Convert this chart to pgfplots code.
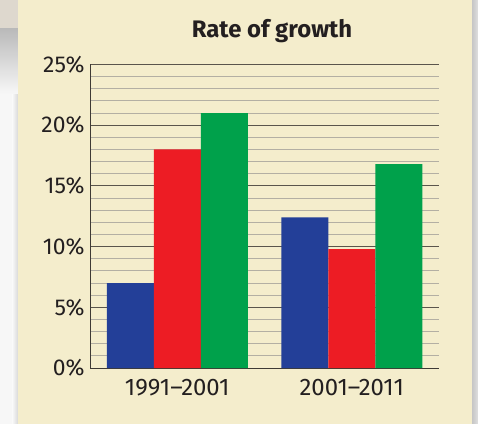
\documentclass[border=0pt]{standalone}
\usepackage{fontspec}
\setmainfont{Fira Sans}
\usepackage{pgfplots}
\pgfplotsset{compat=1.18}
\definecolor{cream}{HTML}{F4EDCC}
\definecolor{barblue}{HTML}{233F98}
\definecolor{barred}{HTML}{ED1C24}
\definecolor{bargreen}{HTML}{00A14B}
\definecolor{txt}{HTML}{231F20}
\definecolor{majgrid}{HTML}{5A554C}
\definecolor{mingrid}{HTML}{B3AFA3}
\definecolor{axline}{HTML}{3E3A35}
\begin{document}
\begin{tikzpicture}
% background
\fill[white!94!gray] (0,0) rectangle (18bp,424bp);
\fill[left color=white!96!gray, right color=gray!30] (12bp,0) rectangle (18bp,396bp);
\fill[top color=gray!55, bottom color=white!94!gray] (0,330bp) rectangle (18bp,396bp);
\fill[color={rgb,255:red,222;green,216;blue,206}] (0,396bp) rectangle (18bp,424bp);
\fill[cream] (18bp,0) rectangle (472bp,424bp);
\fill[left color=gray!45, right color=gray!25] (472bp,0) rectangle (478bp,424bp);
\node[anchor=base, font=\fontsize{24}{27}\selectfont\bfseries, text=txt] at (272bp,386bp) {Rate of growth};
\begin{axis}[
  at={(90bp,56bp)}, anchor=south west,
  scale only axis, width=349bp, height=303.5bp,
  ybar=0pt, bar width=47bp,
  xmin=-0.5, xmax=1.5, ymin=0, ymax=25,
  xtick={0,1}, xticklabels={1991--2001,2001--2011},
  extra x ticks={0.5,1.5}, extra x tick labels={},
  extra x tick style={major tick length=5bp, tick style={axline, line width=0.9pt}},
  ytick={0,5,10,15,20,25},
  yticklabels={0\%,5\%,10\%,15\%,20\%,25\%},
  minor y tick num=4,
  ymajorgrids, yminorgrids,
  major grid style={majgrid, line width=0.9pt},
  minor grid style={mingrid, line width=0.9pt},
  x tick style={draw=none}, y tick style={draw=none},
  major tick length=0pt, minor tick length=0pt,
  axis x line*=bottom, axis y line*=left,
  axis line style={axline, line width=1pt, -},
  tick label style={font=\fontsize{23}{26}\selectfont, text=txt},
  xticklabel style={yshift=-8bp, font=\fontsize{24}{27}\selectfont},
  yticklabel style={xshift=-2bp},
  clip=false,
]
\addplot[fill=barblue, draw=none] coordinates {(0,7.0) (1,12.4)};
\addplot[fill=barred, draw=none] coordinates {(0,18.0) (1,9.8)};
\addplot[fill=bargreen, draw=none] coordinates {(0,21.0) (1,16.8)};
\end{axis}
\end{tikzpicture}
\end{document}
